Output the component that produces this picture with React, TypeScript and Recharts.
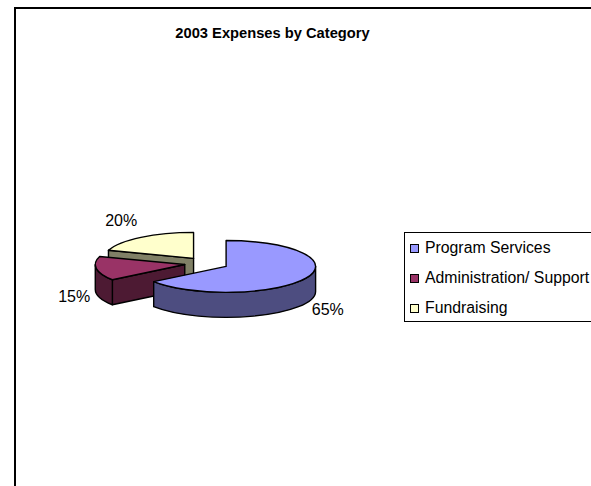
import React from "react";
import { PieChart, Pie, Legend } from "recharts";

const categories = ["Program Services", "Administration/ Support", "Fundraising"];
const shares = [65, 15, 20];
const colors = ["#9999FF", "#993366", "#FFFFCC"];

// drawn back to front so the nearest slice paints last
const pieData = categories
  .map((name, i) => ({ name, value: shares[i], fill: colors[i] }))
  .reverse();

const RAD = Math.PI / 180;
const SQUASH = 0.29; // tilt of the pie
const DEPTH = 25;
const EXPLODE = 22;
const LABEL_NUDGE: Record<string, [number, number]> = {
  "Program Services": [1, 0],
  "Administration/ Support": [1, 8],
  Fundraising: [-6, 0],
};

const darken = (hex: string) => {
  const n = parseInt(hex.slice(1), 16);
  const half = (v: number) => Math.round(v / 2);
  return `rgb(${half((n >> 16) & 255)},${half((n >> 8) & 255)},${half(n & 255)})`;
};

// Tilted, pulled-out slice with its visible side walls
const Slice3D = (props: any) => {
  const { cx, cy, outerRadius: rx, startAngle, endAngle, fill } = props;
  const ry = rx * SQUASH;
  const mid = ((startAngle + endAngle) / 2) * RAD;
  const ox = cx + EXPLODE * Math.cos(mid);
  const oy = cy - EXPLODE * SQUASH * Math.sin(mid);
  const pt = (deg: number, dy = 0): [number, number] => [
    ox + rx * Math.cos(deg * RAD),
    oy - ry * Math.sin(deg * RAD) + dy,
  ];
  const wall = darken(fill);
  const stroke = { stroke: "#000", strokeWidth: 1.4, strokeLinejoin: "round" as const };

  const face = (deg: number) => {
    const [x, y] = pt(deg);
    return `M${ox},${oy} L${x},${y} L${x},${y + DEPTH} L${ox},${oy + DEPTH} Z`;
  };

  // front half of the rim lies between 180 and 360 degrees
  const from = Math.max(startAngle, 180);
  const to = Math.min(endAngle, 360);
  let rim = null;
  if (to > from) {
    const [x0, y0] = pt(from);
    const [x1, y1] = pt(to);
    const large = to - from > 180 ? 1 : 0;
    rim = `M${x0},${y0} A${rx},${ry} 0 ${large} 0 ${x1},${y1} L${x1},${y1 + DEPTH} A${rx},${ry} 0 ${large} 1 ${x0},${y0 + DEPTH} Z`;
  }

  const [sx, sy] = pt(startAngle);
  const [ex, ey] = pt(endAngle);
  const top = `M${ox},${oy} L${sx},${sy} A${rx},${ry} 0 ${endAngle - startAngle > 180 ? 1 : 0} 0 ${ex},${ey} Z`;

  return (
    <g>
      {Math.cos(endAngle * RAD) < -0.001 && <path d={face(endAngle)} fill={wall} {...stroke} />}
      {Math.cos(startAngle * RAD) > 0.001 && <path d={face(startAngle)} fill={wall} {...stroke} />}
      {rim && <path d={rim} fill={wall} {...stroke} />}
      <path d={top} fill={fill} {...stroke} />
    </g>
  );
};

const renderLabel = (props: any) => {
  const { cx, cy, midAngle, percent, name } = props;
  const [nx, ny] = LABEL_NUDGE[name] || [0, 0];
  const m = midAngle * RAD;
  return (
    <text
      x={cx + 135 * Math.cos(m) + nx}
      y={cy - 71 * Math.sin(m) + 14 + ny}
      textAnchor="middle"
      dominantBaseline="central"
      fontSize={16}
      fontFamily="Liberation Sans"
      fill="#000"
    >
      {`${Math.round(percent * 100)}%`}
    </text>
  );
};

const LegendBox = () => (
  <div
    style={{
      width: 220,
      height: 90,
      boxSizing: "border-box",
      border: "1px solid #000",
      background: "#fff",
      fontFamily: "Liberation Sans",
      fontSize: 15.8,
      color: "#000",
      paddingLeft: 5,
      paddingTop: 0,
    }}
  >
    {categories.map((c, i) => (
      <div key={c} style={{ height: 30, display: "flex", alignItems: "center" }}>
        <span
          style={{
            width: 9,
            height: 9,
            boxSizing: "border-box",
            border: "1.5px solid #000",
            background: colors[i],
            marginRight: 6,
          }}
        />
        <span style={{ whiteSpace: "nowrap" }}>{c}</span>
      </div>
    ))}
  </div>
);

export default function App() {
  return (
    <div style={{ position: "fixed", left: 0, top: 0, width: 591, height: 486, overflow: "hidden", background: "#fff" }}>
      <div
        style={{
          position: "absolute",
          left: 14,
          top: 7,
          width: 700,
          height: 700,
          border: "2px solid #000",
        }}
      />
      <div
        style={{
          position: "absolute",
          left: 0,
          width: 545,
          top: 25,
          textAlign: "center",
          fontFamily: "Liberation Sans",
          fontWeight: "bold",
          fontSize: 14.7,
          lineHeight: "16px",
          color: "#000",
        }}
      >
        2003 Expenses by Category
      </div>
      <PieChart width={591} height={486} margin={{ top: 0, right: 0, bottom: 0, left: 0 }} style={{ position: "absolute", left: 0, top: 0 }}>
        <Pie
          data={pieData}
          dataKey="value"
          nameKey="name"
          cx={206.5}
          cy={263.5}
          outerRadius={89.5}
          startAngle={90}
          endAngle={450}
          paddingAngle={0}
          shape={Slice3D}
          label={renderLabel}
          labelLine={false}
          isAnimationActive={false}
        />
        <Legend content={<LegendBox />} wrapperStyle={{ left: 404, top: 232, width: 220, bottom: "auto", right: "auto" }} />
      </PieChart>
    </div>
  );
}
